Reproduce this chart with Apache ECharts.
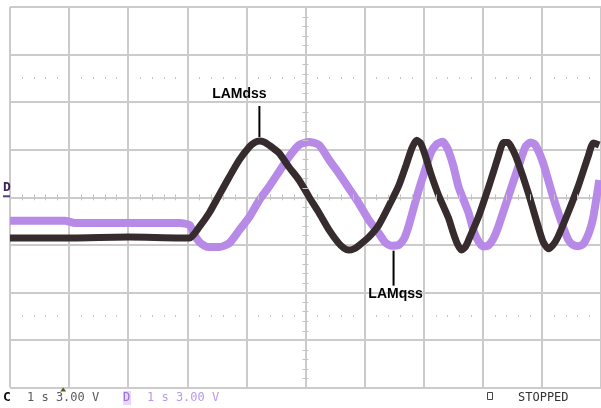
<!DOCTYPE html>
<html>
<head>
<meta charset="utf-8">
<script src="https://cdn.jsdelivr.net/npm/echarts@6.0.0/dist/echarts.min.js"></script>
<style>
  html, body { margin: 0; padding: 0; background: #ffffff; }
  #scope { width: 601px; height: 408px; }
</style>
</head>
<body>
<div id="scope"></div>
<script>
// Channel C (LAMdss): time in seconds, level in volts
const timeC = [0, 1.01, 2.02, 2.87, 3.04, 3.20, 3.37, 3.54, 3.71, 3.88,
  4.05, 4.14, 4.22, 4.30, 4.38, 4.55, 4.72, 4.89, 5.06, 5.23,
  5.40, 5.56, 5.65, 5.73, 5.82, 5.90, 6.07, 6.24, 6.41, 6.58,
  6.70, 6.80, 6.88, 6.95, 7.03, 7.12, 7.25, 7.42, 7.50, 7.57,
  7.64, 7.71, 7.76, 7.93, 8.09, 8.18, 8.26, 8.35, 8.43, 8.52,
  8.60, 8.77, 8.94, 9.02, 9.11, 9.19, 9.27, 9.44, 9.61, 9.78,
  9.87, 9.97];
const voltC = [-2.57, -2.57, -2.51, -2.57, -2.57, -1.88, -0.99, 0.15, 1.28, 2.36,
  3.18, 3.45, 3.55, 3.49, 3.30, 2.80, 1.91, 1.09, 0.02, -0.99,
  -2.07, -2.89, -3.20, -3.33, -3.25, -3.05, -2.51, -1.75, -0.55, 0.75,
  2.00, 3.10, 3.60, 3.40, 2.60, 1.50, 0.15, -1.31, -2.25, -2.95,
  -3.33, -3.10, -2.70, -1.20, 0.55, 1.60, 2.55, 3.45, 3.45, 2.90,
  2.17, 0.27, -1.88, -2.80, -3.25, -3.00, -2.51, -0.99, 0.65, 2.55,
  3.43, 3.30];

// Channel D (LAMqss)
const timeD = [0, 0.93, 1.10, 2.02, 2.87, 3.04, 3.12, 3.20, 3.29, 3.37,
  3.54, 3.71, 3.88, 4.05, 4.22, 4.38, 4.55, 4.72, 4.89, 5.06,
  5.23, 5.40, 5.56, 5.73, 5.90, 6.07, 6.24, 6.35, 6.45, 6.58,
  6.67, 6.75, 6.88, 7.00, 7.12, 7.22, 7.32, 7.40, 7.50, 7.59,
  7.76, 7.84, 7.93, 8.01, 8.09, 8.18, 8.26, 8.43, 8.60, 8.72,
  8.80, 8.88, 9.02, 9.19, 9.36, 9.45, 9.53, 9.62, 9.70, 9.80,
  9.87, 9.97];
const voltD = [-1.48, -1.48, -1.62, -1.62, -1.62, -1.75, -2.38, -2.80, -3.05, -3.14,
  -3.14, -2.89, -2.07, -1.24, -0.17, 0.65, 1.60, 2.55, 3.30, 3.49,
  3.30, 2.36, 1.53, 0.59, -0.36, -1.43, -2.26, -2.85, -3.05, -3.00,
  -2.60, -1.75, 0.00, 1.45, 2.80, 3.35, 3.50, 3.10, 2.00, 0.65,
  -0.99, -2.07, -2.80, -3.10, -3.05, -2.60, -1.88, 0.02, 1.91, 3.18,
  3.45, 3.35, 2.17, 0.02, -1.88, -2.70, -3.01, -3.08, -2.95, -2.20,
  -1.24, 1.09];

// Timebase / vertical settings shown in the status line
const secPerDiv = 1;
const voltPerDiv = 3;
const hDivs = 10;
const vDivs = 8;
const triggerTime = 0.9;
const labelC = 'LAMdss';
const labelD = 'LAMqss';
const settingC = '1 s 3.00 V';
const settingD = '1 s 3.00 V';
const runState = 'STOPPED';

const colorC = '#362b2d';
const colorD = '#b88ae8';
const gridColor = '#cbcbcb';

const pairs = (xs, ys) => xs.map((x, i) => [x, ys[i]]);

const chart = echarts.init(document.getElementById('scope'), null, { renderer: 'canvas' });

const vMax = voltPerDiv * vDivs / 2;

chart.setOption({
  animation: false,
  backgroundColor: '#ffffff',
  grid: { left: 10, right: -2, top: 7, bottom: 20.4, containLabel: false },
  xAxis: {
    type: 'value', min: 0, max: secPerDiv * hDivs, interval: secPerDiv,
    axisLine: { show: false }, axisTick: { show: false }, axisLabel: { show: false },
    splitLine: { show: true, lineStyle: { color: gridColor, width: 2 } }
  },
  yAxis: {
    type: 'value', min: -vMax, max: vMax, interval: voltPerDiv,
    axisLine: { show: false }, axisTick: { show: false }, axisLabel: { show: false },
    splitLine: { show: true, lineStyle: { color: gridColor, width: 2 } }
  },
  series: [
    {
      name: labelD, type: 'line', data: pairs(timeD, voltD),
      showSymbol: false, smooth: 0.2, z: 2,
      lineStyle: { color: colorD, width: 8, join: 'round' }
    },
    {
      name: labelC, type: 'line', data: pairs(timeC, voltC),
      showSymbol: false, smooth: 0.2, z: 3,
      lineStyle: { color: colorC, width: 7, join: 'round' }
    }
  ]
});

// Graticule details, status line and trace annotations
const px = (t, v) => chart.convertToPixel({ gridIndex: 0 }, [t, v]);
const g = [];
const tickStyle = { stroke: '#c4c4c4', lineWidth: 1 };

// centre horizontal ruler: minor ticks every 1/5 division
const [, yMid] = px(0, 0);
for (let k = 0; k <= hDivs * 5; k++) {
  if (k % 5 === 0) continue;
  const [x] = px(k * secPerDiv / 5, 0);
  const xx = Math.round(x) + 0.5;
  g.push({ type: 'line', silent: true, z: 5,
    shape: { x1: xx, y1: yMid - 3, x2: xx, y2: yMid + 3 }, style: tickStyle });
}
// centre vertical ruler
const [xMid] = px(hDivs * secPerDiv / 2, 0);
for (let k = 0; k <= vDivs * 5; k++) {
  if (k % 5 === 0) continue;
  const [, y] = px(0, -vMax + k * voltPerDiv / 5);
  const yy = Math.round(y) + 0.5;
  g.push({ type: 'line', silent: true, z: 5,
    shape: { x1: xMid - 3, y1: yy, x2: xMid + 3, y2: yy }, style: tickStyle });
}
// dotted rows at +/- 2.5 divisions
[2.5, -2.5].forEach(d => {
  for (let k = 0; k <= hDivs * 5; k++) {
    if (k % 5 === 0) continue;
    const [x, y] = px(k * secPerDiv / 5, d * voltPerDiv);
    g.push({ type: 'rect', silent: true, z: 1,
      shape: { x: Math.round(x), y: Math.round(y) - 1, width: 1, height: 2 },
      style: { fill: '#c4c4c4' } });
  }
});

// LAMdss annotation at the first C peak
{
  const [x, y] = px(timeC[12], voltC[12]);
  g.push({ type: 'line', z: 10, shape: { x1: x, y1: y - 4, x2: x, y2: y - 35 },
    style: { stroke: '#000', lineWidth: 2 } });
  g.push({ type: 'text', z: 10, style: { text: labelC, x: x - 20, y: y - 40,
    align: 'center', verticalAlign: 'bottom',
    font: 'bold 14px "Liberation Sans", Arial, sans-serif', fill: '#000' } });
}
// LAMqss annotation at the D trough
{
  const [x, y] = px(6.49, -3.05);
  g.push({ type: 'line', z: 10, shape: { x1: x, y1: y + 5, x2: x, y2: y + 40 },
    style: { stroke: '#000', lineWidth: 2 } });
  g.push({ type: 'text', z: 10, style: { text: labelD, x: x + 2, y: y + 41,
    align: 'center', verticalAlign: 'top',
    font: 'bold 14px "Liberation Sans", Arial, sans-serif', fill: '#000' } });
}

// channel D ground marker
{
  const [, y0] = px(0, 0);
  g.push({ type: 'text', z: 10, style: { text: 'D', x: 3, y: y0 - 3,
    align: 'left', verticalAlign: 'bottom',
    font: 'bold 13px "DejaVu Sans Mono", monospace', fill: '#3b2456' } });
  g.push({ type: 'line', z: 10, shape: { x1: 3, y1: y0 - 1, x2: 10, y2: y0 - 1 },
    style: { stroke: '#5a3a86', lineWidth: 2 } });
}

// trigger position marker under the graticule
{
  const [x, y] = px(triggerTime, -vMax);
  g.push({ type: 'polygon', z: 10,
    shape: { points: [[x - 3, y + 4], [x + 3, y + 4], [x, y]] },
    style: { fill: '#5c5a10' } });
}

// status line
const mono = '12px "DejaVu Sans Mono", monospace';
const statusY = 398;
g.push({ type: 'text', z: 10, style: { text: 'C', x: 3, y: statusY, verticalAlign: 'middle',
  font: 'bold 13px "DejaVu Sans Mono", monospace', fill: '#111' } });
g.push({ type: 'text', z: 10, style: { text: settingC, x: 27, y: statusY, verticalAlign: 'middle',
  font: mono, fill: '#5a5a5a' } });
g.push({ type: 'rect', z: 9, shape: { x: 123, y: 391, width: 8, height: 14 },
  style: { fill: '#e6d8fa' } });
g.push({ type: 'text', z: 10, style: { text: 'D', x: 123, y: statusY, verticalAlign: 'middle',
  font: mono, fill: '#9c6ede' } });
g.push({ type: 'text', z: 10, style: { text: settingD, x: 147, y: statusY, verticalAlign: 'middle',
  font: mono, fill: '#b99ae8' } });
g.push({ type: 'rect', z: 10, shape: { x: 487.5, y: 392.5, width: 5, height: 7 },
  style: { fill: 'none', stroke: '#444', lineWidth: 1 } });
g.push({ type: 'text', z: 10, style: { text: runState, x: 518, y: statusY, verticalAlign: 'middle',
  font: mono, fill: '#333' } });

chart.setOption({ graphic: g });
</script>
</body>
</html>
